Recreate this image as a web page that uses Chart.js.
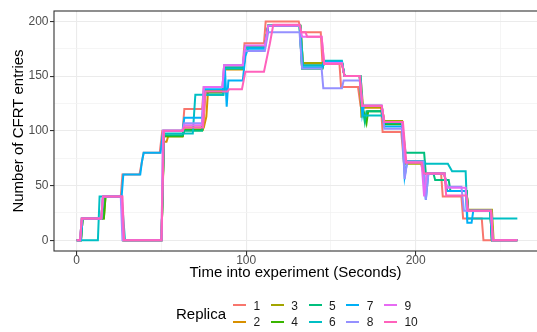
<!DOCTYPE html>
<html>
<head>
<meta charset="utf-8">
<script src="https://cdn.jsdelivr.net/npm/chart.js@4.4.1/dist/chart.umd.min.js"></script>
<style>
  body { margin: 0; background: #fff; }
  #wrap { position: relative; width: 537px; height: 332px; overflow: hidden; font-family: "Liberation Sans", Arial, sans-serif; }
  #legend { position: absolute; left: 0; top: 0; width: 537px; height: 332px; pointer-events: none; }
  .key { position: absolute; width: 13px; height: 2px; }
  .lab { position: absolute; font-size: 12px; line-height: 14px; color: #1a1a1a; white-space: nowrap; }
  .ltitle { position: absolute; font-size: 15px; line-height: 18px; color: #000; }
</style>
</head>
<body>
<div id="wrap">
  <canvas id="chart" width="537" height="332"></canvas>
  <div id="legend"></div>
</div>
<script>
// values: [seconds, CFRT entries]
const replica1 = [[0,0],[2,0],[3,20],[14.5,20],[15.5,40],[26,40],[27,60],[37,60],[38.5,72],[39.5,80],[49,80],[50.5,100],[62.5,100],[63.5,120],[74,120],[75,140],[86,140],[87,160],[98,160],[99,180],[110.5,180],[111.5,200],[131,200],[132.5,190],[144,190],[145,162],[155,162],[156,140],[166,140],[167.5,123],[179.5,123],[180.5,99],[191.5,99],[193,72],[203,72],[204.5,61],[215,61],[216,40],[227,40],[228,20],[239,20],[240,0],[260,0]];
const replica2 = [[0,0],[2.5,0],[3.5,20],[15,20],[16,40],[26.5,40],[27.5,0],[50,0],[51.5,90],[53,90],[54,95],[62.5,95],[63.5,103],[75,103],[76.5,113],[77.5,137],[86.5,137],[87.5,156],[98.5,156],[99.5,177],[111,177],[113,196],[132,196],[133.5,160],[145,160],[146,162],[156.5,162],[158,150],[167.5,150],[169,121],[180,121],[181.5,109],[192,109],[194,72],[204,72],[205.5,61],[217,61],[218.5,45],[230,45],[231,27],[244,27],[245,0],[260,0]];
const replica3 = [[0,0],[2.5,0],[3.5,20],[16,20],[17,40],[26.5,40],[27.5,0],[50,0],[51.5,95],[62.5,95],[63.5,101],[74.5,101],[76,137],[86.5,137],[87.5,157],[98.5,157],[99.5,177],[111,177],[113,196],[132,196],[133.5,162],[145,162],[146,163],[156.5,163],[158,150],[167,150],[168,112],[169,122],[180,122],[181.5,109],[192,109],[194,70],[204,70],[205.5,61],[217,61],[218.5,45],[230,45],[231,28],[245,28],[246,0],[260,0]];
const replica4 = [[0,0],[2.5,0],[3.5,20],[16,20],[17,40],[26.5,40],[27.5,0],[50,0],[51.5,95],[62.5,95],[63.5,101],[74,101],[75.5,135],[86.5,135],[87.5,157],[98.5,157],[99.5,177],[111,177],[113,196],[131.5,196],[133,157],[145,157],[146,163],[156.5,163],[158,150],[167,150],[168.5,123],[171,107],[172,118],[180,118],[181.5,106],[192,106],[194,72],[204,72],[205.5,61],[217,61],[218.5,45],[230,45],[231,27],[244,27],[245,0],[260,0]];
const replica5 = [[0,0],[2,0],[3,20],[15,20],[16,40],[26.5,40],[27.5,0],[50,0],[51.5,96],[62.5,96],[63.5,100],[74,100],[75.5,133],[86.5,133],[87.5,158],[98.5,158],[99.5,177],[111,177],[113,196],[131.5,196],[133,157],[145,157],[146,163],[156.5,163],[158,150],[167,150],[168.5,123],[170,108],[171,118],[180,118],[181.5,107],[192,107],[194,80],[205,80],[206,61],[210.5,61],[211.5,55],[219.5,55],[220.5,45],[230,45],[231,27],[244,27],[245,0],[260,0]];
const replica6 = [[0,0],[12.5,0],[13.5,40],[26.5,40],[27,30],[28.5,0],[50,0],[51.5,97.5],[68.5,97.5],[70,133],[86.5,133],[87.5,157],[98.5,157],[99.5,176],[111,176],[113,196],[132,196],[133.5,160],[145,160],[146,164],[156.5,164],[158,150],[167.5,150],[169,114],[180,114],[181.5,108],[192,108],[194,72],[205,72],[206,70],[219,70],[221.5,63],[229.5,63],[230.5,20],[260,20]];
const replica7 = [[0,0],[2.5,0],[3.5,20],[14.5,20],[15.5,40],[26.5,40],[27.5,60],[37.5,60],[38.5,72],[39.5,80],[49.5,80],[51,100],[62.5,100],[63.5,112],[74,112],[75.5,138],[86.5,138],[87.5,156],[88.5,122],[89.5,146],[98,146],[99.5,168],[101,175],[111,175],[113,196],[131.5,196],[133,158],[145,158],[146,163],[156.5,163],[158,150],[167,150],[168.5,115],[169.5,123],[180,123],[181.5,104],[192,104],[193.5,58],[195,72],[204.5,72],[206,37],[207.5,61],[217,61],[218.5,45],[229.5,45],[230.5,16],[233,16],[234,27],[244,27],[245,0],[260,0]];
const replica8 = [[0,0],[2,0],[3,20],[14.5,20],[15.5,40],[26,40],[27,0],[50,0],[51,100],[62.5,100],[63.5,107],[74,107],[75,140],[86,140],[87,160],[98,160],[99,173],[111,173],[113,190],[131.5,190],[133,157],[144.5,157],[145.5,139],[156.5,139],[157.5,146],[167,146],[168.5,123],[180,123],[181.5,102],[192,102],[193.5,56],[195,72],[204.5,72],[206,37],[207.5,61],[217,61],[218,49],[227,49],[228.5,27],[244.5,27],[245.5,0],[260,0]];
const replica9 = [[0,0],[2,0],[3,20],[14.5,20],[15.5,40],[26.5,40],[27.5,0],[50,0],[51,100],[62.5,100],[63.5,105],[74,105],[75,140],[86,140],[87,160],[98,160],[99.5,178],[111,178],[113,196],[131.5,196],[133,186],[144.5,186],[146,162],[156.5,162],[158,150],[167,150],[168.5,123],[180,123],[181.5,108],[192,108],[194,71],[203.5,71],[205,40],[206.5,61],[217,61],[218.5,48],[229.5,48],[230.5,27],[244.5,27],[245.5,0],[260,0]];
const replica10 = [[0,0],[2,0],[3,20],[14.5,20],[15.5,40],[27,40],[28,0],[50,0],[51.5,100],[62.5,100],[63.5,103],[74.5,103],[76,136],[89,136],[90,138],[97.5,138],[99.5,154],[110.5,154],[114,180],[116,197],[131.5,197],[132.5,190],[135,190],[136,186],[144.5,186],[146,161],[156.5,161],[158,150],[167,150],[168.5,123],[180,123],[181.5,108],[192.5,108],[194.5,71],[203.5,71],[205,61],[217,61],[218,41],[230,41],[231,27],[244.5,27],[245.5,0],[260,0]];

const replicas = [replica1, replica2, replica3, replica4, replica5, replica6, replica7, replica8, replica9, replica10];
const replicaLabels = ["1", "2", "3", "4", "5", "6", "7", "8", "9", "10"];
const replicaColors = ["#F8766D", "#D89000", "#A3A500", "#39B600", "#00BF7D", "#00BFC4", "#00B0F6", "#9590FF", "#E76BF3", "#FF62BC"];

const xTicks = [0, 50, 100, 150, 200, 250];
const yTicks = [0, 25, 50, 75, 100, 125, 150, 175, 200];

Chart.defaults.font.family = '"Liberation Sans", Arial, sans-serif';

const isMajorX = v => v % 100 === 0;
const isMajorY = v => v % 50 === 0;

// ggplot-like panel border (right side falls outside the canvas)
const panelBorder = {
  id: "panelBorder",
  afterDraw(chart) {
    const { ctx, chartArea } = chart;
    ctx.save();
    ctx.strokeStyle = "#333333";
    ctx.lineWidth = 1.1;
    ctx.strokeRect(chartArea.left, chartArea.top, chartArea.right - chartArea.left + 5, chartArea.bottom - chartArea.top);
    ctx.restore();
  },
};

const datasets = replicas.map((pts, i) => ({
  label: replicaLabels[i],
  data: pts.map(p => ({ x: p[0], y: p[1] })),
  borderColor: replicaColors[i],
  backgroundColor: replicaColors[i],
  borderWidth: 2,
  pointRadius: 0,
  tension: 0,
  fill: false,
  order: replicas.length - i,
}));

new Chart(document.getElementById("chart"), {
  type: "line",
  data: { datasets: datasets },
  options: {
    responsive: false,
    animation: false,
    layout: { padding: { top: 11, left: 0, right: 0, bottom: 0 } },
    plugins: {
      legend: { display: false },
      tooltip: { enabled: false },
    },
    scales: {
      x: {
        type: "linear",
        min: -13.4,
        max: 271.6,
        afterBuildTicks: s => { s.ticks = xTicks.map(v => ({ value: v })); },
        afterFit: s => { s.height = 81; },
        border: { display: false },
        grid: {
          color: c => isMajorX(c.tick.value) ? "#EBEBEB" : "#F3F3F3",
          lineWidth: c => isMajorX(c.tick.value) ? 1.1 : 0.8,
          tickColor: c => isMajorX(c.tick.value) ? "#333333" : "rgba(0,0,0,0)",
          tickLength: 4,
          tickWidth: 1.1,
        },
        ticks: {
          autoSkip: false,
          maxRotation: 0,
          padding: -1.5,
          color: "#4D4D4D",
          font: { size: 12 },
          callback: v => isMajorX(v) ? String(v) : "",
        },
        title: {
          display: true,
          text: "Time into experiment (Seconds)",
          color: "#000",
          font: { size: 15 },
          padding: { top: 0, bottom: 50.5 },
        },
      },
      y: {
        min: -9.8,
        max: 209.5,
        afterBuildTicks: s => { s.ticks = yTicks.map(v => ({ value: v })); },
        afterFit: s => { s.width = 54; },
        border: { display: false },
        grid: {
          color: c => isMajorY(c.tick.value) ? "#EBEBEB" : "#F3F3F3",
          lineWidth: c => isMajorY(c.tick.value) ? 1.1 : 0.8,
          tickColor: c => isMajorY(c.tick.value) ? "#333333" : "rgba(0,0,0,0)",
          tickLength: 4,
          tickWidth: 1.1,
        },
        ticks: {
          autoSkip: false,
          padding: 1.5,
          color: "#4D4D4D",
          font: { size: 12 },
          callback: v => isMajorY(v) ? String(v) : "",
        },
        title: {
          display: true,
          text: "Number of CFRT entries",
          color: "#000",
          font: { size: 15 },
          padding: { top: 10, bottom: 0 },
        },
      },
    },
  },
  plugins: [panelBorder],
});

// legend: title on the left, two rows filled column by column
const legend = document.getElementById("legend");
const title = document.createElement("div");
title.className = "ltitle";
title.textContent = "Replica";
title.style.left = "176px";
title.style.top = "305px";
legend.appendChild(title);

replicaLabels.forEach((lab, i) => {
  const col = Math.floor(i / 2);
  const row = i % 2;
  const cy = 305.4 + row * 16.7;
  const key = document.createElement("div");
  key.className = "key";
  key.style.background = replicaColors[i];
  key.style.left = (233.3 + col * 37.7) + "px";
  key.style.top = (cy - 1) + "px";
  legend.appendChild(key);
  const t = document.createElement("div");
  t.className = "lab";
  t.textContent = lab;
  t.style.left = (253.6 + col * 37.7) + "px";
  t.style.top = (cy - 6.9) + "px";
  legend.appendChild(t);
});
</script>
</body>
</html>
